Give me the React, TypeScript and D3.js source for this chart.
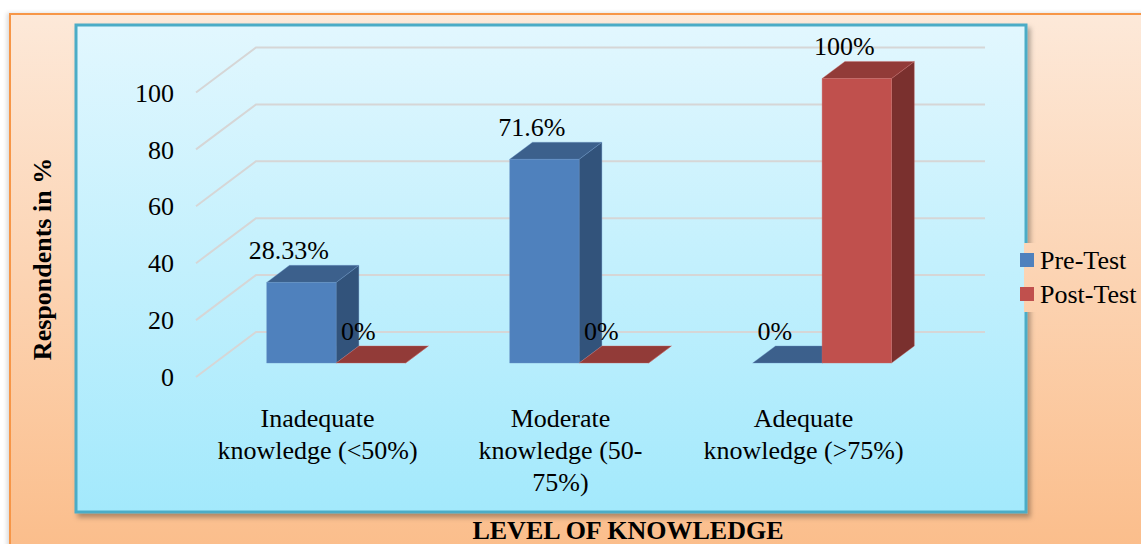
import * as d3 from 'd3';

// values
const categories = ['Inadequate', 'Moderate', 'Adequate'];
const categoryLines = [
    ['Inadequate', 'knowledge (<50%)'],
    ['Moderate', 'knowledge (50-', '75%)'],
    ['Adequate', 'knowledge (>75%)'],
];
const series = ['Pre-Test', 'Post-Test'];
const preTest = [28.33, 71.6, 0];
const postTest = [0, 0, 100];
const preLabels = ['28.33%', '71.6%', '0%'];
const postLabels = ['0%', '0%', '100%'];
const yTicks = [0, 20, 40, 60, 80, 100];

const W = 1141;
const H = 544;
const FONT = '"Liberation Serif", "DejaVu Serif", serif';
const FS = 26;

const COLORS = {
    'Pre-Test': { front: '#4f81bd', top: '#3c608c', side: '#32537b', edge: '#6a95c8' },
    'Post-Test': { front: '#c0504d', top: '#923b38', side: '#7a302e', edge: '#cf6b68' },
    grid: '#d6d6d6',
    outerBorder: '#f79646',
    innerBorder: '#4bacc6',
};

// 3D layout: floor front edge and depth vector
const floorX0 = 196;
const floorX1 = 925;
const DX = 60;
const DY = -45;
const depthFront = 0.31;
const depthBack = 0.69;

export default function App() {
    const y = d3.scaleLinear().domain([0, 100]).range([377, 92.5]);
    const x = d3.scaleBand().domain(categories).range([floorX0, floorX1]);
    const bw = x.bandwidth() / 3.5; // gap width 150%
    const xs = d3.scaleBand().domain(series).range([0, bw * 2]);
    const inset = (x.bandwidth() - bw * 2) / 2;

    const proj = (px: number, v: number, f: number): [number, number] => [px + DX * f, y(v) + DY * f];
    const poly = (pts: [number, number][]) => d3.line()(pts) + 'Z';

    const values: Record<string, number[]> = { 'Pre-Test': preTest, 'Post-Test': postTest };
    const labels: Record<string, string[]> = { 'Pre-Test': preLabels, 'Post-Test': postLabels };

    const bars: any[] = [];
    categories.forEach((c, i) => {
        series.forEach((s) => {
            const x0 = (x(c) as number) + inset + (xs(s) as number);
            bars.push({ key: c + s, s, x0, x1: x0 + bw, v: values[s][i], label: labels[s][i] });
        });
    });

    return (
        <svg width={W} height={H} style={{ position: 'absolute', left: 0, top: 0, display: 'block' }}
            fontFamily={FONT}>
            <defs>
                <linearGradient id="outerBg" x1="0" y1="0" x2="0" y2={H} gradientUnits="userSpaceOnUse">
                    <stop offset="0" stopColor="#fdeadb" />
                    <stop offset="1" stopColor="#fbbe8c" />
                </linearGradient>
                <linearGradient id="innerBg" x1="0" y1="0" x2="0" y2="1">
                    <stop offset="0" stopColor="#e2f7fe" />
                    <stop offset="1" stopColor="#a3e9fc" />
                </linearGradient>
                <filter id="shadow" x="-5%" y="-5%" width="110%" height="115%">
                    <feDropShadow dx="3" dy="4" stdDeviation="2.5" floodColor="#000" floodOpacity="0.3" />
                </filter>
                <filter id="shadowL" x="-5%" y="-5%" width="110%" height="110%">
                    <feDropShadow dx="-2" dy="0" stdDeviation="2" floodColor="#000" floodOpacity="0.15" />
                </filter>
            </defs>

            <rect x={10} y={14} width={W + 20} height={H} fill="url(#outerBg)"
                stroke={COLORS.outerBorder} strokeWidth={2} filter="url(#shadowL)" />

            <rect x={76} y={25} width={950} height={487} fill="url(#innerBg)"
                stroke={COLORS.innerBorder} strokeWidth={3} filter="url(#shadow)" />

            {/* gridlines on side wall and back wall */}
            {yTicks.map((t) => (
                <path key={'g' + t}
                    d={d3.line()([proj(floorX0, t, 0), proj(floorX0, t, 1), proj(floorX1, t, 1)]) as string}
                    fill="none" stroke={COLORS.grid} strokeWidth={2} />
            ))}

            {yTicks.map((t) => (
                <text key={'t' + t} x={174} y={y(t)} dy="0.35em" textAnchor="end" fontSize={FS} fill="#000">
                    {t}
                </text>
            ))}

            {/* bars */}
            {bars.map((b) => {
                const c = COLORS[b.s as 'Pre-Test'];
                const front = poly([proj(b.x0, 0, depthFront), proj(b.x1, 0, depthFront), proj(b.x1, b.v, depthFront), proj(b.x0, b.v, depthFront)]);
                const top = poly([proj(b.x0, b.v, depthFront), proj(b.x1, b.v, depthFront), proj(b.x1, b.v, depthBack), proj(b.x0, b.v, depthBack)]);
                const side = poly([proj(b.x1, 0, depthFront), proj(b.x1, 0, depthBack), proj(b.x1, b.v, depthBack), proj(b.x1, b.v, depthFront)]);
                return (
                    <g key={b.key}>
                        <path d={side} fill={c.side} stroke={c.edge} strokeWidth={0.6} strokeOpacity={0.6} />
                        <path d={top} fill={c.top} stroke={c.edge} strokeWidth={0.6} strokeOpacity={0.6} />
                        {b.v > 0 && <path d={front} fill={c.front} stroke={c.edge} strokeWidth={0.6} strokeOpacity={0.6} />}
                    </g>
                );
            })}

            {/* data labels */}
            {bars.map((b) => {
                const [, ty] = proj(b.x0, b.v, depthBack);
                return (
                    <text key={'l' + b.key} x={(b.x0 + b.x1) / 2 + 6} y={ty - 6} textAnchor="middle" fontSize={FS} fill="#000">
                        {b.label}
                    </text>
                );
            })}

            {/* category labels */}
            {categories.map((c, i) => (
                <text key={'c' + c} textAnchor="middle" fontSize={FS} fill="#000">
                    {categoryLines[i].map((ln, j) => (
                        <tspan key={j} x={(x(c) as number) + x.bandwidth() / 2} y={418 + j * 32} dy="0.35em">{ln}</tspan>
                    ))}
                </text>
            ))}

            {/* axis titles */}
            <text x={628} y={530} dy="0.35em" textAnchor="middle" fontSize={FS} fontWeight="bold" fill="#000">
                LEVEL OF KNOWLEDGE
            </text>
            <text transform="translate(42,259) rotate(-90)" dy="0.35em" textAnchor="middle" fontSize={FS}
                fontWeight="bold" fill="#000">
                Respondents in %
            </text>

            {/* legend */}
            <rect x={1024} y={243} width={130} height={69} fill="url(#outerBg)" />
            {series.map((s, i) => (
                <g key={'lg' + s} transform={`translate(1020,${253 + i * 34})`}>
                    <rect width={14} height={14} fill={COLORS[s as 'Pre-Test'].front} />
                    <text x={20} y={7} dy="0.35em" fontSize={FS} fill="#000">{s}</text>
                </g>
            ))}
        </svg>
    );
}
